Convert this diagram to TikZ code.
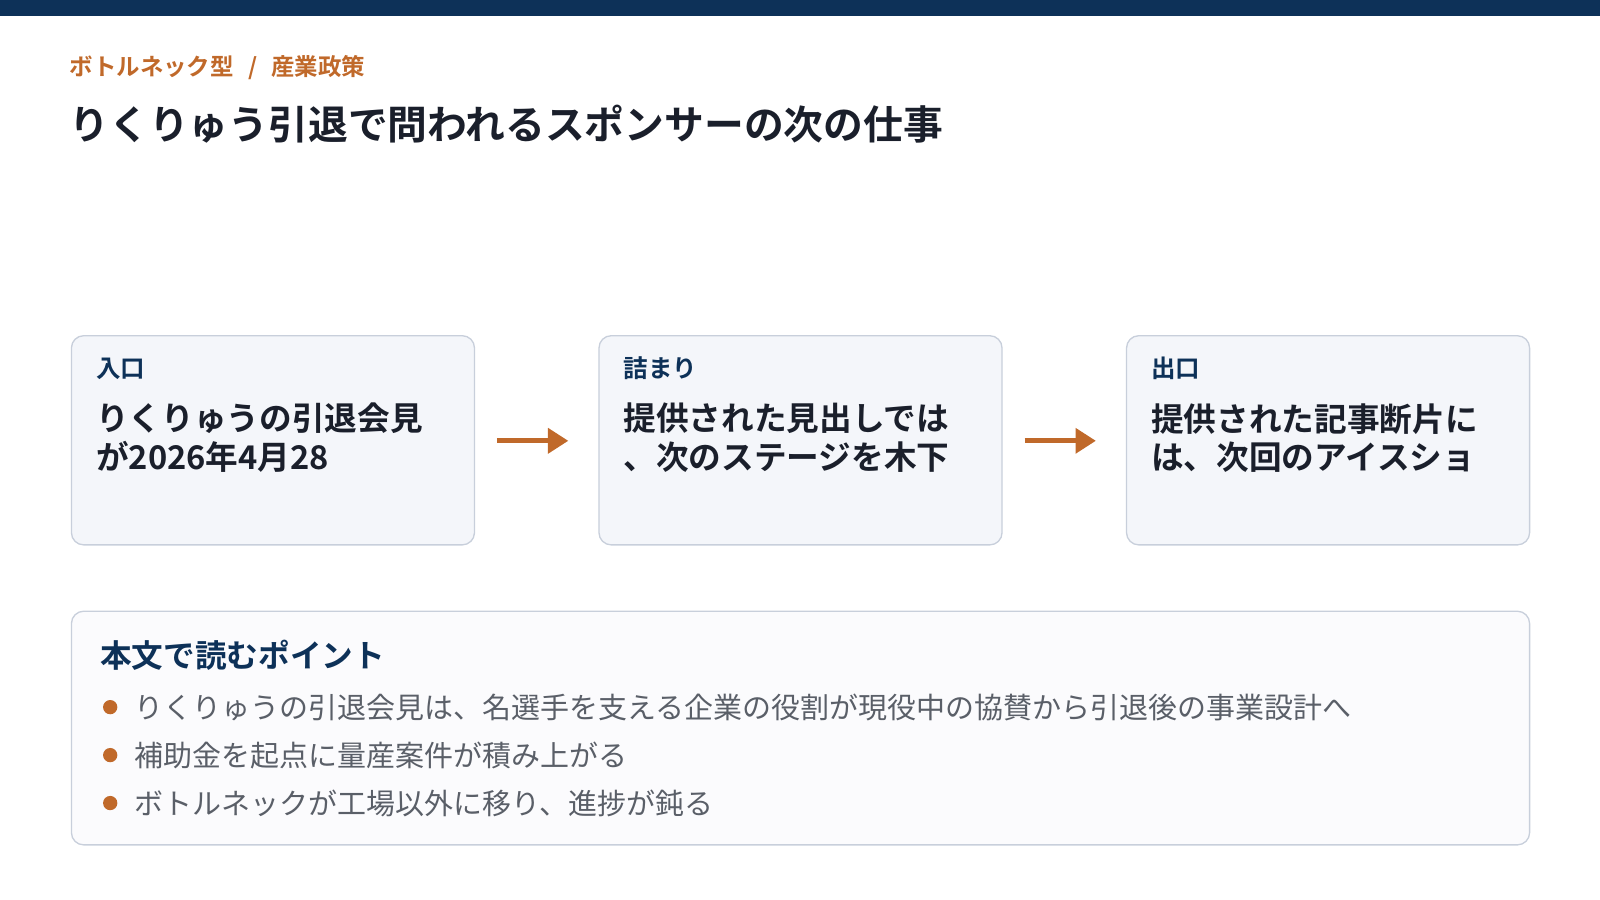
\documentclass[tikz,border=0pt]{standalone}
\usepackage{fontspec}
\setmainfont{Noto Sans CJK JP}
\newfontfamily\jpb{Noto Sans CJK JP Bold}
\usetikzlibrary{arrows.meta}
\definecolor{navy}{HTML}{0D3158}
\definecolor{org}{HTML}{C0692A}
\definecolor{ink}{HTML}{1A1F2B}
\definecolor{boxfill}{HTML}{F4F6FA}
\definecolor{boxline}{HTML}{C8CFDB}
\definecolor{gry}{HTML}{5A5F68}
\tikzset{
  card/.style={draw=boxline,line width=1.3pt,fill=boxfill,rounded corners=12pt},
  lab/.style={anchor=west,text=navy,font=\jpb\fontsize{24}{28}\selectfont,inner sep=0},
  body/.style={anchor=north west,text=ink,font=\jpb\fontsize{32}{38}\selectfont,align=left,inner sep=0},
  flow/.style={draw=org,line width=5pt,-{Triangle[length=20pt,width=24pt]}},
  dot/.style={circle,fill=org,minimum size=14pt,inner sep=0},
  bul/.style={anchor=west,text=gry,font=\fontsize{28.4}{32}\selectfont,inner sep=0}
}
\begin{document}
\begin{tikzpicture}[x=1pt,y=-1pt]
\useasboundingbox (0,0) rectangle (1568,882);
\fill[navy] (0,0) rectangle (1568,16);
\node[anchor=west,text=org,font=\jpb\fontsize{23}{26}\selectfont,inner sep=0] (sub) at (68,66) {ボトルネック型\hspace{14pt}/\hspace{14pt}産業政策};
\node[anchor=west,text=ink,font=\jpb\fontsize{39}{44}\selectfont,inner sep=0] (title) at (68,122) {りくりゅう引退で問われるスポンサーの次の仕事};
\foreach \n/\x/\l/\t in {a/70/入口/{りくりゅうの引退会見\\が2026年4月28},b/587/詰まり/{提供された見出しでは\\、次のステージを木下},c/1104/出口/{提供された記事断片に\\は、次回のアイスショ}}{
  \draw[card] (\x,329) rectangle ++(395,205);
  \node[lab] (\n l) at (\x+24,361) {\l};
  \node[body] (\n t) at (\x+24,395) {\t};
  \coordinate (\n w) at (\x,432);
  \coordinate (\n e) at (\x+395,432);
}
\draw[flow] ([xshift=22pt]ae) -- ([xshift=-30pt]bw);
\draw[flow] ([xshift=22pt]be) -- ([xshift=-30pt]cw);
\draw[card,fill=white!60!boxfill] (70,599) rectangle (1499,828);
\node[anchor=west,text=navy,font=\jpb\fontsize{31}{34}\selectfont,inner sep=0] (pt) at (98,642) {本文で読むポイント};
\foreach \y/\t [count=\i] in {693/{りくりゅうの引退会見は、名選手を支える企業の役割が現役中の協賛から引退後の事業設計へ},740/{補助金を起点に量産案件が積み上がる},787/{ボトルネックが工場以外に移り、進捗が鈍る}}{
  \node[dot] (d\i) at (108,\y) {};
  \node[bul] (t\i) at (132,\y) {\t};
}
\end{tikzpicture}
\end{document}
